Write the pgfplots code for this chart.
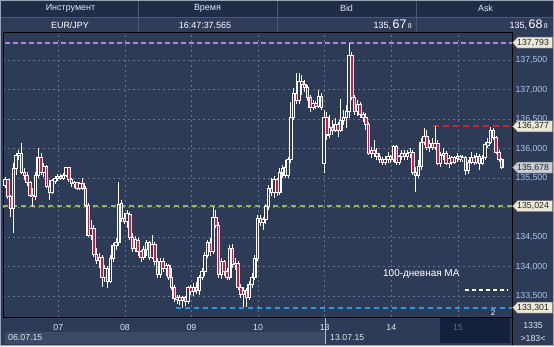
\documentclass[border=0pt]{standalone}
\usepackage{pgfplots}
\pgfplotsset{compat=1.18}
\usepackage{pgfplotstable}
\usepackage{fontspec}
\setmainfont{Liberation Sans}
\definecolor{plotbg}{HTML}{2E3B57}
\definecolor{hdrbg}{HTML}{212D46}
\definecolor{rowbg}{HTML}{2F3D5B}
\definecolor{gridc}{HTML}{64748F}
\definecolor{tickc}{HTML}{A9C6EE}
\definecolor{candred}{HTML}{E2103C}
\definecolor{pinkl}{HTML}{C77BD0}
\definecolor{redl}{HTML}{E41E1E}
\definecolor{greenl}{HTML}{8DBB3C}
\definecolor{bluel}{HTML}{1C9FE2}
\definecolor{boxc}{HTML}{ECE9D6}
\definecolor{boxg}{HTML}{C9CED4}
\definecolor{datebar}{HTML}{3D4A66}
\definecolor{darkbox}{HTML}{15203A}
\definecolor{framec}{HTML}{9AA3B5}
\definecolor{sepc}{HTML}{4A5874}
\definecolor{hdrtext}{HTML}{DDE6F0}
\definecolor{dimc}{HTML}{5C6C8A}
\pgfdeclarelayer{bg}
\pgfsetlayers{bg,main}

\pgfplotstableread{
x o h l c
0 135.38 135.52 135.33 135.48
1 135.47 135.48 135.14 135.18
2 135.18 135.21 134.84 134.99
3 134.99 135.75 134.57 135.67
4 135.67 135.92 135.55 135.89
5 135.89 135.97 135.81 135.91
6 135.91 136.09 135.57 135.60
7 135.60 135.67 135.47 135.55
8 135.55 135.60 135.36 135.42
9 135.42 135.45 135.18 135.21
10 135.21 135.33 135.01 135.18
11 135.18 135.60 135.13 135.55
12 135.55 136.01 135.50 135.84
13 135.84 135.92 135.55 135.60
14 135.60 135.75 135.52 135.69
15 135.69 135.72 135.33 135.36
16 135.36 135.47 135.13 135.26
17 135.26 135.48 135.23 135.45
18 135.45 135.53 135.40 135.50
19 135.50 135.57 135.45 135.53
20 135.53 135.57 135.47 135.50
21 135.50 135.59 135.47 135.55
22 135.55 135.69 135.52 135.67
23 135.67 135.69 135.43 135.47
24 135.47 135.50 135.35 135.40
25 135.40 135.45 135.33 135.42
26 135.42 135.43 135.30 135.33
27 135.33 135.43 135.30 135.40
28 135.40 135.50 135.30 135.33
29 135.33 135.36 135.01 135.04
30 135.04 135.08 134.50 134.53
31 134.53 134.79 134.45 134.65
32 134.65 134.70 134.16 134.21
33 134.21 134.31 134.04 134.11
34 134.11 134.23 133.97 134.16
35 134.16 134.19 133.65 133.82
36 133.82 134.03 133.74 133.97
37 133.97 134.01 133.64 133.75
38 133.75 134.19 133.72 134.14
39 134.14 134.40 134.08 134.35
40 134.35 134.48 134.28 134.40
41 134.40 135.43 134.35 135.06
42 135.06 135.13 134.75 134.81
43 134.81 134.91 134.72 134.77
44 134.77 134.96 134.65 134.89
45 134.89 134.92 134.45 134.50
46 134.50 134.57 134.25 134.31
47 134.31 134.52 134.25 134.45
48 134.45 134.48 134.18 134.25
49 134.25 134.28 134.08 134.16
50 134.16 134.35 134.11 134.28
51 134.28 134.45 134.18 134.40
52 134.40 134.43 134.11 134.16
53 134.16 134.53 134.13 134.38
54 134.38 134.42 134.03 134.08
55 134.08 134.14 133.81 133.86
56 133.86 134.14 133.81 134.08
57 134.08 134.14 133.91 133.97
58 133.97 134.06 133.84 134.01
59 134.01 134.04 133.77 133.82
60 133.82 133.97 133.60 133.65
61 133.65 133.69 133.40 133.45
62 133.45 133.52 133.36 133.48
63 133.48 133.52 133.35 133.42
64 133.42 133.50 133.301 133.47
65 133.47 133.50 133.33 133.40
66 133.40 133.67 133.36 133.64
67 133.64 133.69 133.52 133.57
68 133.57 133.72 133.50 133.65
69 133.65 133.74 133.53 133.60
70 133.60 133.86 133.52 133.82
71 133.82 133.97 133.77 133.91
72 133.91 134.25 133.84 134.19
73 134.19 134.45 134.14 134.40
74 134.40 134.48 134.18 134.25
75 134.25 135.01 134.21 134.84
76 134.84 134.96 134.65 134.70
77 134.70 134.75 133.81 133.86
78 133.86 134.14 133.79 134.08
79 134.08 134.11 133.84 133.91
80 133.91 133.97 133.77 133.82
81 133.82 134.36 133.77 134.31
82 134.31 134.38 133.97 134.03
83 134.03 134.14 133.94 134.06
84 134.06 134.09 133.60 133.64
85 133.64 133.70 133.47 133.52
86 133.52 133.65 133.31 133.60
87 133.60 133.64 133.31 133.48
88 133.48 133.75 133.43 133.70
89 133.70 133.89 133.64 133.82
90 133.82 134.19 133.77 134.14
91 134.14 134.87 134.09 134.82
92 134.82 134.87 134.69 134.75
93 134.75 134.84 134.62 134.79
94 134.79 135.06 134.72 135.01
95 135.01 135.38 134.96 135.33
96 135.33 135.50 135.19 135.25
97 135.25 135.53 135.16 135.47
98 135.47 135.50 135.19 135.26
99 135.26 135.67 135.21 135.60
100 135.60 135.72 135.50 135.67
101 135.67 135.81 135.50 135.55
102 135.55 135.86 135.50 135.81
103 135.81 136.79 135.75 136.52
104 136.52 137.03 136.48 136.94
105 136.94 137.28 136.75 136.82
106 136.82 137.28 136.75 137.13
107 137.13 137.25 136.91 137.08
108 137.08 137.16 136.96 137.03
109 137.03 137.08 136.81 136.86
110 136.86 136.91 136.62 136.70
111 136.70 136.82 136.65 136.77
112 136.77 136.81 136.67 136.72
113 136.72 136.99 136.69 136.89
114 136.89 136.94 136.65 136.70
115 135.75 136.65 135.59 136.52
116 136.52 136.62 136.14 136.23
117 136.23 136.57 136.18 136.35
118 136.35 136.48 136.23 136.31
119 136.31 136.52 136.28 136.40
120 136.40 136.45 136.20 136.31
121 136.31 136.84 136.28 136.48
122 136.48 136.65 136.40 136.53
123 136.53 136.74 136.35 136.62
124 136.62 137.793 136.52 137.58
125 137.58 137.64 136.82 136.87
126 136.87 136.91 136.57 136.62
127 136.62 136.82 136.55 136.75
128 136.75 136.79 136.52 136.57
129 136.57 136.62 136.45 136.52
130 136.52 136.60 136.31 136.40
131 136.40 136.45 135.89 135.92
132 135.92 136.03 135.84 135.97
133 135.97 136.14 135.86 135.91
134 135.91 136.01 135.81 135.87
135 135.87 135.92 135.75 135.81
136 135.81 135.86 135.72 135.77
137 135.77 135.87 135.72 135.82
138 135.82 135.94 135.75 135.86
139 135.86 135.89 135.75 135.81
140 135.81 136.06 135.77 136.03
141 136.03 136.06 135.72 135.77
142 135.77 135.89 135.72 135.86
143 135.86 135.97 135.81 135.92
144 135.92 135.97 135.81 135.86
145 135.86 135.97 135.81 135.92
146 135.92 136.01 135.84 135.94
147 135.94 135.97 135.55 135.59
148 135.59 135.69 135.26 135.55
149 135.55 135.81 135.50 135.69
150 135.69 136.18 135.64 136.11
151 136.11 136.35 136.06 136.21
152 136.21 136.31 135.97 136.01
153 136.01 136.14 135.94 136.09
154 136.09 136.18 135.97 136.01
155 136.01 136.377 135.97 136.09
156 136.09 136.14 135.72 135.75
157 135.75 135.94 135.69 135.89
158 135.89 136.01 135.81 135.92
159 135.92 135.96 135.72 135.75
160 135.75 135.89 135.67 135.84
161 135.84 135.87 135.72 135.77
162 135.77 135.87 135.74 135.84
163 135.84 135.92 135.77 135.86
164 135.86 135.89 135.77 135.81
165 135.81 135.89 135.77 135.84
166 135.84 135.87 135.55 135.62
167 135.62 135.81 135.57 135.77
168 135.77 135.94 135.74 135.84
169 135.84 135.89 135.72 135.77
170 135.77 135.92 135.74 135.87
171 135.87 135.91 135.64 135.75
172 135.75 135.89 135.72 135.84
173 135.84 136.11 135.81 136.06
174 136.06 136.18 136.01 136.11
175 136.11 136.36 136.08 136.30
176 136.30 136.35 136.14 136.18
177 136.18 136.21 135.91 135.94
178 135.94 135.97 135.77 135.81
179 135.81 135.84 135.65 135.678
}\candles

\newcommand\pricebox[3]{%
  \filldraw[fill=#3, draw=black!55, line width=0.5bp]
    (512.5,#1) -- (517.5,#1+5.5) -- (552.5,#1+5.5) -- (552.5,#1-5.5) -- (517.5,#1-5.5) -- cycle;
  \node[anchor=west, inner sep=0pt, font=\fontsize{8.8}{10}\selectfont, text=black!85] at (517,#1) {#2};}

\begin{document}
\begin{tikzpicture}[x=1bp,y=1bp]
\begin{axis}[
  width=509bp, height=284bp, scale only axis,
  xmin=-0.72, xmax=182.7, ymin=133.144, ymax=137.958,
  axis background/.style={fill=plotbg},
  axis line style={black, line width=1bp},
  xtick={19.2,43.2,67.2,91.2,115.2,139.2,163.2},
  xticklabels={07,08,09,10,13,14,{\color{dimc}15}},
  ytick={133.5,134,134.5,135.5,136,136.5,137,137.5},
  extra y ticks={135},
  extra y tick labels={},
  extra y tick style={grid=major},
  yticklabel pos=right,
  major tick length=0pt,
  grid=major,
  major grid style={gridc, dash pattern=on 2bp off 3bp, line width=0.6bp},
  tick label style={font=\fontsize{8.8}{10}\selectfont, text=tickc},
  xticklabel style={text=hdrtext, yshift=-3.5bp},
  yticklabel style={/pgf/number format/.cd, fixed, fixed zerofill, precision=3, use comma, 1000 sep={}},
  /pgf/number format/assume math mode=true,
]
% level lines
\addplot[greenl, line width=2bp, dash pattern=on 5bp off 4bp] coordinates {(-0.72,135.024) (182.7,135.024)};
\addplot[pinkl, line width=2bp, dash pattern=on 5bp off 3bp] coordinates {(0,137.793) (182.7,137.793)};
\addplot[bluel, line width=2bp, dash pattern=on 5bp off 4bp] coordinates {(61.5,133.301) (182.7,133.301)};
\addplot[redl, line width=2bp, dash pattern=on 6bp off 4bp] coordinates {(154.3,136.377) (182.7,136.377)};
\addplot[white, line width=2bp, dash pattern=on 4bp off 3bp] coordinates {(165.8,133.60) (181.0,133.60)};
% wicks
\addplot[draw=none, mark=none, forget plot,
  error bars/.cd, y dir=both, y explicit, error mark=none,
  error bar style={draw=white, line width=0.9bp}]
  table[x=x, y expr={(\thisrow{h}+\thisrow{l})/2}, y error expr={(\thisrow{h}-\thisrow{l})/2}] {\candles};
% bodies (white outline)
\addplot[draw=none, mark=none, forget plot,
  error bars/.cd, y dir=both, y explicit, error mark=none,
  error bar style={draw=white, line width=3.6bp}]
  table[x=x, y expr={(\thisrow{o}+\thisrow{c})/2}, y error expr={abs(\thisrow{o}-\thisrow{c})/2+0.0085}] {\candles};
% bullish interior
\addplot[draw=none, mark=none, forget plot,
  error bars/.cd, y dir=both, y explicit, error mark=none,
  error bar style={draw=plotbg, line width=1.4bp}]
  table[x=x, y expr={(\thisrow{o}+\thisrow{c})/2}, y error expr={max((\thisrow{c}-\thisrow{o})/2-0.0085,0)}] {\candles};
% bearish interior
\addplot[draw=none, mark=none, forget plot,
  error bars/.cd, y dir=both, y explicit, error mark=none,
  error bar style={draw=candred, line width=1.5bp}]
  table[x=x, y expr={(\thisrow{o}+\thisrow{c})/2}, y error expr={max((\thisrow{o}-\thisrow{c})/2-0.0085,0)}] {\candles};
\coordinate (sw) at (rel axis cs:0,0);
\end{axis}

\begin{scope}[shift={(sw)}, xshift=-3bp, yshift=-29bp]
\begin{pgfonlayer}{bg}
\fill[plotbg] (0,0) rectangle (554,346);
\fill[hdrbg] (0,329) rectangle (554,346);
\fill[rowbg] (0,313) rectangle (554,329);
\draw[sepc, line width=0.7bp] (0,329) -- (554,329);
\foreach \xx in {138,277,416} {\draw[sepc, line width=0.8bp] (\xx,313) -- (\xx,346);}
\fill[datebar] (5,2) rectangle (325,14.5);
\fill[darkbox] (440,3) rectangle (510,28);
\draw[framec!70, line width=0.6bp] (325,2) -- (325,28);
\end{pgfonlayer}
\begin{scope}[font=\fontsize{9}{10}\selectfont]
\node[text=hdrtext] at (70.5,337.5) {Инструмент};
\node[text=hdrtext] at (207.5,337.5) {Время};
\node[text=hdrtext] at (346.5,337.5) {Bid};
\node[text=hdrtext] at (485.5,337.5) {Ask};
\node[text=white, anchor=base] at (70,317.5) {EUR/JPY};
\node[text=white, anchor=base] at (205,317.5) {16:47:37.565};
\node[text=white, anchor=base east, inner sep=0pt] at (412,317.5) {135,\,{\fontsize{12.5}{12}\selectfont 67}\,{\fontsize{7}{7}\selectfont 8}};
\node[text=white, anchor=base east, inner sep=0pt] at (548,317.5) {135,\,{\fontsize{12.5}{12}\selectfont 68}\,{\fontsize{7}{7}\selectfont 8}};
\end{scope}
\begin{scope}[font=\fontsize{8.8}{10}\selectfont]
\node[text=hdrtext, anchor=west, inner sep=0pt] at (8,8.3) {06.07.15};
\node[text=hdrtext, anchor=west, inner sep=0pt] at (330,8.3) {13.07.15};
\node[text=hdrtext] at (533,21) {1335};
\node[text=hdrtext] at (533,7.5) {>183<};
\end{scope}
\draw[black, line width=1bp] (512,0) -- (512,313);
% annotations
\node[text=white, anchor=west, inner sep=0pt, font=\fontsize{10}{11}\selectfont] at (383,72) {100-дневная MA};
\node[text=white, inner sep=0pt, font=\fontsize{8}{9}\selectfont] at (493,33) {2};
% price boxes
\pricebox{303.3}{137,793}{boxc}
\pricebox{219.7}{136,377}{boxc}
\pricebox{178.5}{135,678}{boxg}
\pricebox{139.9}{135,024}{boxc}
\pricebox{38.3}{133,301}{boxc}
% frame
\draw[framec, line width=1.2bp] (0.6,0.6) rectangle (553.4,345.4);
\pgfresetboundingbox
\useasboundingbox (0,0) rectangle (554,346);
\end{scope}
\end{tikzpicture}
\end{document}
